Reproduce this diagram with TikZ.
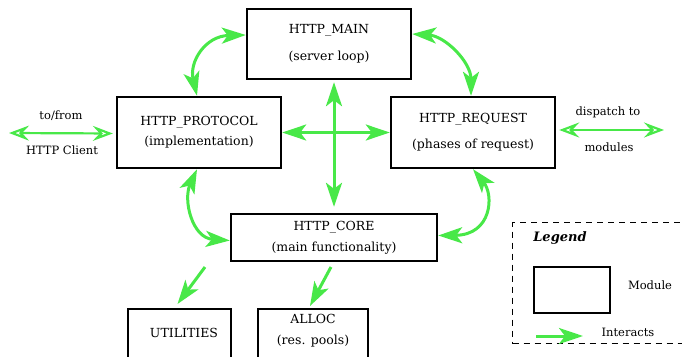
\documentclass[tikz,border=0pt]{standalone}
\usepackage{fontspec}
\setmainfont{DejaVu Serif}
\usetikzlibrary{arrows.meta,calc}
\definecolor{agreen}{RGB}{72,232,72}
\tikzset{
  gtip/.tip={Stealth[length=24pt,width=16pt,inset=6pt]},
  otip/.tip={Stealth[open,length=20pt,width=15pt,inset=7pt]},
  modbox/.style={draw=black, line width=2.4pt, inner sep=0pt, align=center, font=\fontsize{12.5}{15}\selectfont},
  boxtext/.style={inner sep=0pt, align=center, font=\fontsize{12.5}{15}\selectfont},
  small/.style={inner sep=0pt, align=center, font=\fontsize{11.5}{13}\selectfont},
  garrow/.style={draw=agreen, line width=3pt},
  both/.style={garrow, arrows={gtip-gtip}},
  one/.style={garrow, arrows={-gtip}},
  oarrow/.style={draw=agreen, line width=2.2pt, arrows={otip-otip}},
}
\begin{document}
\begin{tikzpicture}[x=1pt,y=-1pt]
\useasboundingbox (0,0) rectangle (682,356);
% modules
\node[modbox,minimum width=164pt,minimum height=70pt] (main) at (329,44) {HTTP\_MAIN\\[12pt](server loop)};
\node[modbox,minimum width=164pt,minimum height=71pt] (proto) at (199,132.5) {HTTP\_PROTOCOL\\[5pt](implementation)};
\node[modbox,minimum width=164pt,minimum height=71pt] (req) at (473,132.5) {HTTP\_REQUEST\\[11pt](phases of request)};
\node[modbox,minimum width=206pt,minimum height=47pt] (core) at (334,237.5) {HTTP\_CORE\\[6pt](main functionality)};
\node[modbox,minimum width=103pt,minimum height=64pt,anchor=north] (util) at (179.5,308) {};
\node[boxtext] (utiltxt) at (184,333) {UTILITIES};
\node[modbox,minimum width=110pt,minimum height=64pt,anchor=north] (alloc) at (313,308) {};
\node[boxtext] (alloctxt) at (313,330.5) {ALLOC\\[6pt](res. pools)};
% curved interactions
\draw[both] ([yshift=9pt]main.west) .. controls (205,36) and (189,62) .. ([xshift=-2pt]proto.north);
\draw[both] ([yshift=10pt]main.east) .. controls (445,36) and (471,62) .. ([xshift=-2pt]req.north);
\draw[both] ([xshift=-2pt]proto.south) .. controls (183,200) and (192,238) .. ([yshift=-3pt]core.west);
\draw[both] (req.south) .. controls (494,195) and (492,235) .. ([yshift=2pt]core.east);
% cross
\draw[both] (proto.east) -- (req.west);
\draw[both,shorten <=2pt,shorten >=6pt] (main.south -| core.north) -- (core.north);
% to lower modules
\coordinate (ut) at (205,267);
\draw[one] (ut) -- ([xshift=-2pt,yshift=4pt]util.north);
\coordinate (at) at (331,267);
\draw[one] (at) -- ([xshift=-3pt,yshift=2pt]alloc.north);
% outside
\coordinate (client) at (9,133);
\draw[oarrow,shorten >=3pt] (client) -- ([yshift=-1pt]proto.west);
\node[small] (tofrom) at (61,116) {to/from};
\node[small] (clientlbl) at (62,150) {HTTP Client};
\coordinate (disp) at (664,130);
\draw[oarrow,shorten <=3pt] ([yshift=2.5pt]req.east) -- (disp);
\node[small] (displbl) at (608,112) {dispatch to};
\node[small] (modlbl) at (609,147) {modules};
% legend
\node[draw,line width=1.3pt,dash pattern=on 6pt off 5pt,minimum width=188pt,minimum height=121pt,anchor=north west,inner sep=0pt] (legend) at (512,222) {};
\node[inner sep=0pt,font=\bfseries\itshape\fontsize{13}{15}\selectfont] (legtitle) at (560,238) {Legend};
\node[draw,line width=2.4pt,minimum width=76pt,minimum height=46pt,inner sep=0pt] (legbox) at (572,290) {};
\node[small] (legmod) at (650,285) {Module};
\coordinate (la) at (536,336);
\coordinate (lb) at (583,336);
\draw[one] (la) -- (lb);
\node[small] (legint) at (628,332) {Interacts};
\end{tikzpicture}
\end{document}
